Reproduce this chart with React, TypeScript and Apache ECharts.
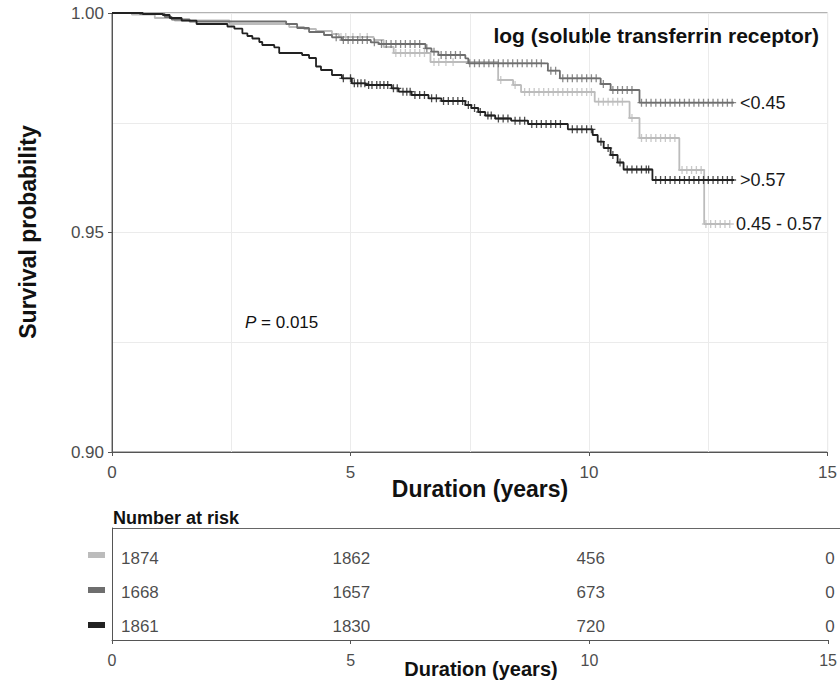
import React, { useEffect, useRef } from "react";
import * as echarts from "echarts";

// ---------- data ----------
const GROUPS = ["0.45 - 0.57", "<0.45", ">0.57"];

// Kaplan-Meier step points (time in years, survival after the drop)
const LIGHT_T = [0, 0.417, 0.897, 1.314, 2.462, 3.714, 4.027, 4.277, 4.611, 4.757, 5.487, 5.696, 5.905, 6.676, 8.095, 8.408, 8.575, 10.119, 10.85, 11.058, 11.893, 12.414, 12.956];
const LIGHT_S = [1, 0.99961, 0.99886, 0.99829, 0.99749, 0.99681, 0.99636, 0.9959, 0.99522, 0.99453, 0.99385, 0.99226, 0.99089, 0.98884, 0.98474, 0.9836, 0.982, 0.97979, 0.97608, 0.97153, 0.96424, 0.95194, 0.95194];

const MID_T = [0, 0.584, 1.106, 1.252, 1.627, 3.651, 3.881, 4.131, 4.444, 4.611, 4.819, 5.425, 5.592, 6.572, 6.697, 6.843, 7.407, 7.469, 9.138, 9.389, 10.244, 10.453, 11.058, 13.04];
const MID_S = [1, 0.99977, 0.99909, 0.99852, 0.99806, 0.99749, 0.99658, 0.99567, 0.99499, 0.99446, 0.99385, 0.99333, 0.99294, 0.99196, 0.99118, 0.99043, 0.98968, 0.98854, 0.98686, 0.98513, 0.98383, 0.98246, 0.97957, 0.97957];

const DARK_T = [0, 0.647, 1.064, 1.21, 1.46, 1.773, 2.42, 2.566, 2.733, 2.838, 2.942, 3.088, 3.15, 3.401, 3.505, 3.985, 4.131, 4.277, 4.381, 4.611, 4.819, 5.028, 5.32, 5.863, 6.009, 6.28, 6.635, 6.906, 7.407, 7.532, 7.678, 7.824, 8.033, 8.367, 8.721, 9.556, 10.077, 10.182, 10.307, 10.453, 10.599, 10.724, 11.329, 13.04];
const DARK_S = [1, 0.99977, 0.99954, 0.99886, 0.99825, 0.99749, 0.99692, 0.99642, 0.99538, 0.99476, 0.99419, 0.99339, 0.99271, 0.99219, 0.99089, 0.99043, 0.98975, 0.98781, 0.98702, 0.98588, 0.98513, 0.98399, 0.9836, 0.98285, 0.98207, 0.98132, 0.98057, 0.97995, 0.97904, 0.97836, 0.97745, 0.97665, 0.97597, 0.97547, 0.97472, 0.97351, 0.97221, 0.97068, 0.96925, 0.96765, 0.96595, 0.96435, 0.96196, 0.96196];

// censoring times (years)
const LIGHT_CENSOR = [4.8, 4.9, 5.05, 5.2, 5.35, 5.95, 6.05, 6.15, 6.25, 6.35, 6.45, 6.55, 6.75, 6.85, 7.0, 7.15, 8.15, 8.45, 8.65, 8.75, 8.85, 8.95, 9.05, 9.15, 9.25, 9.35, 9.45, 9.55, 9.65, 9.75, 9.85, 9.95, 10.05, 10.2, 10.3, 10.4, 10.5, 10.6, 10.7, 10.9, 11.1, 11.2, 11.3, 11.4, 11.5, 11.6, 11.7, 11.8, 11.95, 12.05, 12.15, 12.25, 12.35, 12.45, 12.55, 12.65, 12.75, 12.85, 12.95];
const MID_CENSOR = [4.7, 4.85, 4.95, 5.05, 5.15, 5.25, 5.35, 5.5, 5.65, 5.75, 5.85, 5.95, 6.05, 6.15, 6.25, 6.35, 6.45, 6.6, 6.75, 6.9, 7.0, 7.1, 7.2, 7.3, 7.5, 7.6, 7.7, 7.8, 7.9, 8.0, 8.1, 8.2, 8.3, 8.4, 8.5, 8.6, 8.7, 8.8, 8.9, 9.0, 9.2, 9.3, 9.45, 9.55, 9.65, 9.75, 9.85, 9.95, 10.05, 10.15, 10.3, 10.5, 10.6, 10.7, 10.8, 10.9, 11.1, 11.2, 11.3, 11.4, 11.5, 11.6, 11.7, 11.8, 11.9, 12.0, 12.1, 12.2, 12.3, 12.4, 12.5, 12.6, 12.7, 12.8, 12.9, 13.0];
const DARK_CENSOR = [4.85, 5.0, 5.08, 5.15, 5.22, 5.3, 5.38, 5.45, 5.55, 5.62, 5.7, 5.78, 5.9, 5.98, 6.1, 6.18, 6.25, 6.35, 6.45, 6.55, 6.7, 6.8, 6.95, 7.05, 7.15, 7.25, 7.35, 7.47, 7.6, 7.72, 7.88, 7.95, 8.1, 8.2, 8.3, 8.45, 8.55, 8.65, 8.8, 8.9, 9.0, 9.1, 9.2, 9.3, 9.4, 9.65, 9.75, 9.85, 9.95, 10.05, 10.25, 10.4, 10.5, 10.65, 10.8, 10.9, 11.0, 11.1, 11.2, 11.25, 11.4, 11.5, 11.6, 11.7, 11.8, 11.9, 12.0, 12.1, 12.2, 12.3, 12.4, 12.5, 12.6, 12.7, 12.8, 12.9, 13.0];

// number at risk
const RISK_TIMES = [0, 5, 10, 15];
const RISK_LIGHT = [1874, 1862, 456, 0];
const RISK_MID = [1668, 1657, 673, 0];
const RISK_DARK = [1861, 1830, 720, 0];

const X_MIN = 0, X_MAX = 15, X_STEP = 5;
const Y_MIN = 0.9, Y_MAX = 1.0, Y_STEP = 0.05;

// ---------- styles ----------
const COLORS = ["#bcbcbc", "#6e6e6e", "#222222"];
const FONT = "'Liberation Sans', Arial, Helvetica, sans-serif";

function survAt(ts: number[], ss: number[], t: number) {
  let s = 1;
  for (let i = 0; i < ts.length; i++) if (ts[i] <= t) s = ss[i];
  return s;
}

function buildOption() {
  const curves = [
    { t: LIGHT_T, s: LIGHT_S, c: LIGHT_CENSOR, risk: RISK_LIGHT },
    { t: MID_T, s: MID_S, c: MID_CENSOR, risk: RISK_MID },
    { t: DARK_T, s: DARK_S, c: DARK_CENSOR, risk: RISK_DARK },
  ];
  const series: any[] = [];
  curves.forEach((cv, i) => {
    series.push({
      name: GROUPS[i],
      type: "line",
      xAxisIndex: 0,
      yAxisIndex: 0,
      step: "end",
      showSymbol: false,
      symbol: "none",
      silent: true,
      z: 2 + i,
      data: cv.t.map((t, k) => [t, cv.s[k]]),
      lineStyle: { color: COLORS[i], width: 1.8 },
      endLabel: {
        show: true,
        formatter: "{a}",
        distance: 6,
        fontSize: 18,
        color: "#1a1a1a",
        fontFamily: FONT,
      },
    });
    series.push({
      type: "scatter",
      xAxisIndex: 0,
      yAxisIndex: 0,
      silent: true,
      z: 2 + i,
      symbol: "path://M0 5L10 5M5 0L5 10",
      symbolSize: 8,
      itemStyle: { color: "rgba(0,0,0,0)", borderColor: COLORS[i], borderWidth: 1.3 },
      data: cv.c.map((t) => [t, survAt(cv.t, cv.s, t)]),
    });
    series.push({
      type: "scatter",
      xAxisIndex: 2,
      yAxisIndex: 2,
      silent: true,
      symbolSize: 1,
      itemStyle: { color: "rgba(0,0,0,0)" },
      data: RISK_TIMES.map((t, k) => ({
        value: [t, GROUPS[i], cv.risk[k]],
        label:
          k === 0
            ? { show: true, position: "inside", align: "left", offset: [9, 0] }
            : { show: true, position: "inside", align: "center" },
      })),
      label: {
        show: true,
        position: "inside",
        formatter: (p: any) => String(p.value[2]),
        fontSize: 17,
        color: "#1a1a1a",
        fontFamily: FONT,
      },
    });
  });

  const axisLine = { show: true, lineStyle: { color: "#555", width: 1 } };
  const axisTick = { show: true, length: 4, lineStyle: { color: "#555" } };
  const grey = "#ebebeb";

  return {
    animation: false,
    backgroundColor: "#ffffff",
    textStyle: { fontFamily: FONT },
    grid: [
      { left: 112, top: 13, width: 718, height: 439, show: true, borderColor: "#666", borderWidth: 1, backgroundColor: "transparent" },
      { left: 112, top: 528, width: 718, height: 112 },
      { left: 112, top: 541, width: 718, height: 103 },
    ],
    xAxis: [
      {
        type: "value", gridIndex: 0, min: X_MIN, max: X_MAX, interval: X_STEP,
        axisLine, axisTick,
        axisLabel: { fontSize: 17, color: "#4d4d4d", margin: 12, fontFamily: FONT },
        splitLine: { show: true, lineStyle: { color: grey } },
        minorTick: { show: false, splitNumber: 2 },
        minorSplitLine: { show: true, lineStyle: { color: grey } },
      },
      {
        type: "value", gridIndex: 1, min: X_MIN, max: X_MAX, interval: X_STEP,
        axisLine, axisTick,
        axisLabel: { fontSize: 16, color: "#4d4d4d", margin: 12, fontFamily: FONT },
        splitLine: { show: false },
      },
      { type: "value", gridIndex: 2, min: X_MIN, max: X_MAX, show: false },
    ],
    yAxis: [
      {
        type: "value", gridIndex: 0, min: Y_MIN, max: Y_MAX, interval: Y_STEP,
        axisLine, axisTick,
        axisLabel: { fontSize: 17, color: "#4d4d4d", margin: 8, fontFamily: FONT, formatter: (v: number) => v.toFixed(2) },
        splitLine: { show: true, lineStyle: { color: grey } },
        minorTick: { show: false, splitNumber: 2 },
        minorSplitLine: { show: true, lineStyle: { color: grey } },
      },
      {
        type: "value", gridIndex: 1, min: 0, max: 1,
        axisLine, axisTick: { show: false }, axisLabel: { show: false }, splitLine: { show: false },
      },
      { type: "category", gridIndex: 2, data: GROUPS, inverse: true, show: false },
    ],
    graphic: [
      {
        type: "text", x: 819, y: 35,
        style: { text: "log (soluble transferrin receptor)", font: `bold 21px ${FONT}`, fill: "#111", align: "right", verticalAlign: "middle" },
      },
      {
        type: "text", x: 28, y: 232, rotation: Math.PI / 2,
        style: { text: "Survival probability", font: `bold 23px ${FONT}`, fill: "#111", align: "center", verticalAlign: "middle" },
      },
      {
        type: "text", x: 480, y: 489,
        style: { text: "Duration (years)", font: `bold 23px ${FONT}`, fill: "#111", align: "center", verticalAlign: "middle" },
      },
      {
        type: "text", x: 245, y: 322,
        style: {
          text: "{i|P} = 0.015",
          font: `17px ${FONT}`, fill: "#111", align: "left", verticalAlign: "middle",
          rich: { i: { fontStyle: "italic", fontSize: 17, fontFamily: FONT, fill: "#111" } },
        },
      },
      {
        type: "text", x: 113, y: 518,
        style: { text: "Number at risk", font: `bold 18px ${FONT}`, fill: "#111", align: "left", verticalAlign: "middle" },
      },
      {
        type: "line", shape: { x1: 112, y1: 528.5, x2: 840, y2: 528.5 },
        style: { stroke: "#666", lineWidth: 1 },
      },
      {
        type: "text", x: 481, y: 669,
        style: { text: "Duration (years)", font: `bold 20px ${FONT}`, fill: "#111", align: "center", verticalAlign: "middle" },
      },
      ...COLORS.map((c, i) => ({
        type: "rect",
        shape: { x: 88, y: 552 + i * 35, width: 17, height: 6 },
        style: { fill: c },
      })),
    ],
    series,
  };
}

export default function App() {
  const ref = useRef<HTMLDivElement>(null);
  useEffect(() => {
    if (!ref.current) return;
    const chart = echarts.init(ref.current, null, { renderer: "svg" });
    chart.setOption(buildOption() as any);
    return () => chart.dispose();
  }, []);
  return (
    <div
      ref={ref}
      style={{ position: "absolute", left: 0, top: 0, width: 840, height: 680, background: "#fff" }}
    />
  );
}
